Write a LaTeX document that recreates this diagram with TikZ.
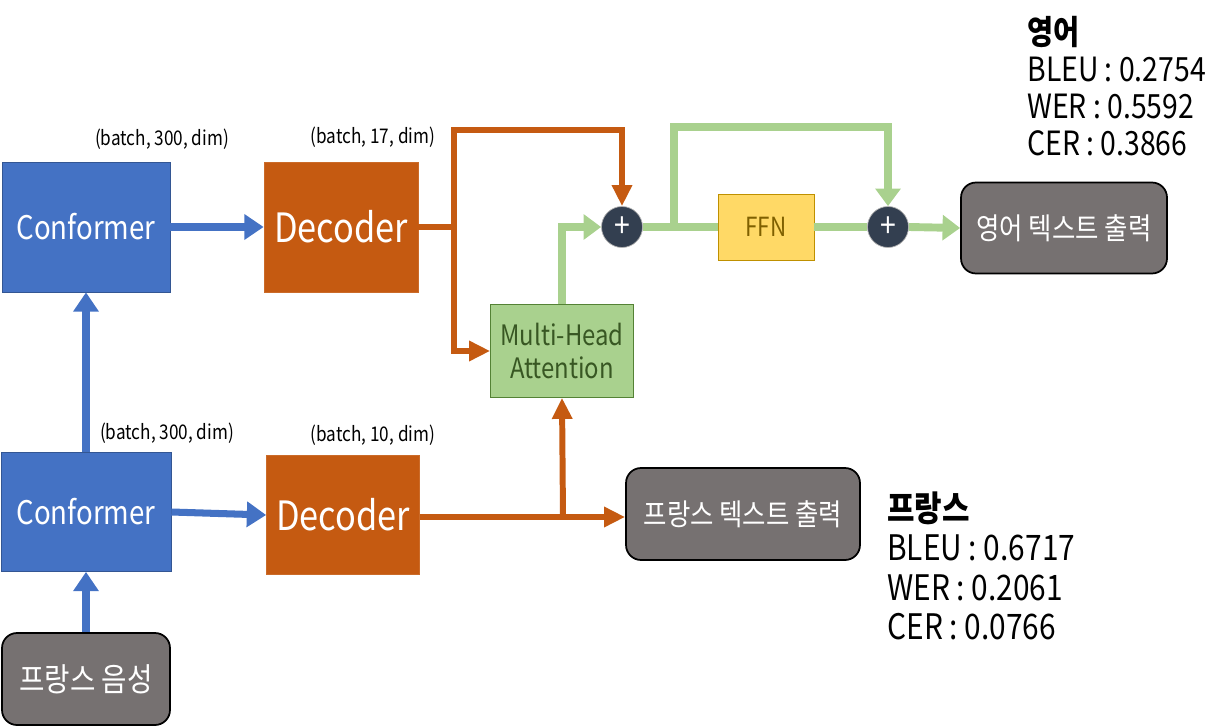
\documentclass[tikz,border=0pt]{standalone}
\usepackage{fontspec}
\setmainfont{Noto Sans CJK KR}
\newfontfamily\narrowfont{Noto Sans CJK KR}[FakeStretch=0.85]
\usetikzlibrary{arrows.meta}
\usetikzlibrary{positioning}

\definecolor{confblue}{HTML}{4472C4}
\definecolor{decorange}{HTML}{C55A11}
\definecolor{attgreen}{HTML}{A9D18E}
\definecolor{attdark}{HTML}{548235}
\definecolor{atttext}{HTML}{385723}
\definecolor{ffnyellow}{HTML}{FFD966}
\definecolor{ffnborder}{HTML}{BF9000}
\definecolor{ffntext}{HTML}{7F6000}
\definecolor{plusnavy}{HTML}{333F50}
\definecolor{outgray}{HTML}{767171}

\begin{document}
\begin{tikzpicture}[x=0.02cm,y=-0.02cm,
  conf/.style={fill=confblue,draw=confblue!75!black,text=white,inner sep=0pt,
    font=\narrowfont\fontsize{18.5}{22}\selectfont},
  dec/.style={fill=decorange,draw=decorange!90!white,text=white,inner sep=0pt,
    font=\narrowfont\fontsize{23}{26}\selectfont},
  outbox/.style={fill=outgray,draw=black,line width=1pt,rounded corners=0.3cm,text=white,
    inner sep=0pt,font=\narrowfont\fontsize{17}{20}\selectfont},
  plus/.style={circle,fill=plusnavy,draw=gray!60,minimum size=0.82cm,inner sep=0pt,
    text=white,font=\narrowfont\fontsize{19}{19}\selectfont},
  dim/.style={font=\narrowfont\fontsize{11.5}{14}\selectfont},
  score/.style={anchor=north west,align=left,inner sep=0pt},
  bluearrow/.style={confblue,line width=4pt,-{Triangle[width=14pt,length=11pt]}},
  orangeline/.style={decorange,line width=3.4pt},
  orangearrow/.style={orangeline,-{Triangle[width=11pt,length=12pt]}},
  greenline/.style={attgreen,line width=4.5pt},
  greenarrow/.style={greenline,-{Triangle[width=14pt,length=10pt]}}]
  \useasboundingbox (0,0) rectangle (1220,726);

  % encoder side
  \node[conf,minimum width=3.36cm,minimum height=2.6cm] (conftop) at (86,227) {Conformer};
  \node[dec,minimum width=3.08cm,minimum height=2.6cm] (dectop) at (341,227) {Decoder};
  \node[conf,minimum width=3.4cm,minimum height=2.38cm] (confbot) at (86,512) {Conformer};
  \node[dec,minimum width=3.06cm,minimum height=2.38cm] (decbot) at (343,515) {Decoder};
  \node[outbox,minimum width=3.36cm,minimum height=1.84cm,
    font=\narrowfont\fontsize{18.5}{20}\selectfont] (speech) at (86,679) {프랑스 음성};

  \node[dim] (dimconftop) at (162,139) {(batch, 300, dim)};
  \node[dim] (dimdectop) at (373,137) {(batch, 17, dim)};
  \node[dim] (dimconfbot) at (167,433) {(batch, 300, dim)};
  \node[dim] (dimdecbot) at (373,435) {(batch, 10, dim)};

  % attention block
  \node[fill=attgreen,draw=attdark,text=atttext,align=center,inner sep=0pt,
    minimum width=2.86cm,minimum height=1.86cm,
    font=\narrowfont\fontsize{16}{19}\selectfont] (mha) at (562,351) {Multi-Head\\Attention};
  \node[plus] (plusone) at (622,227) {+};
  \node[fill=ffnyellow,draw=ffnborder,text=ffntext,inner sep=0pt,
    minimum width=1.92cm,minimum height=1.32cm,
    font=\narrowfont\fontsize{15}{18}\selectfont] (ffn) at (766,227) {FFN};
  \node[plus] (plustwo) at (888,227) {+};

  % outputs
  \node[outbox,minimum width=4.12cm,minimum height=1.82cm] (enout) at (1064,228) {영어 텍스트 출력};
  \node[outbox,minimum width=4.68cm,minimum height=1.84cm] (frout) at (743,514) {프랑스 텍스트 출력};

  \node[score,font=\narrowfont\fontsize{19}{21}\selectfont] (enscore) at (1027,16)
    {\textbf{영어}\\BLEU : 0.2754\\WER : 0.5592\\CER : 0.3866};
  \node[score,font=\narrowfont\fontsize{20}{22.5}\selectfont] (frscore) at (887,491)
    {\textbf{프랑스}\\BLEU : 0.6717\\WER : 0.2061\\CER : 0.0766};

  \coordinate (splittop) at (454,227);
  \coordinate (splitbot) at (563,517);
  \coordinate (skip) at (674,227);

  % arrows
  \draw[bluearrow] (speech.north) -- (confbot.south);
  \draw[bluearrow] (confbot.north) -- (conftop.south);
  \draw[bluearrow] (conftop.east) -- (dectop.west);
  \draw[bluearrow] (confbot.east) -- (decbot.west);

  \draw[orangeline] (dectop.east) -- (splittop);
  \draw[orangearrow] (splittop) |- (454,130) -| (plusone.north);
  \draw[orangearrow] (splittop) |- (mha.west);
  \draw[orangearrow] (decbot.east |- splitbot) -- (frout.west |- splitbot);
  \draw[orangearrow] (splitbot) -- (mha.south);

  \draw[greenarrow] (mha.north) |- (plusone.west);
  \draw[greenline] (plusone.east) -- (ffn.west);
  \draw[greenarrow] (skip) |- (674,127) -| (plustwo.north);
  \draw[greenline] (ffn.east) -- (plustwo.west);
  \draw[greenarrow] (plustwo.east) -- (enout.west);
\end{tikzpicture}
\end{document}
